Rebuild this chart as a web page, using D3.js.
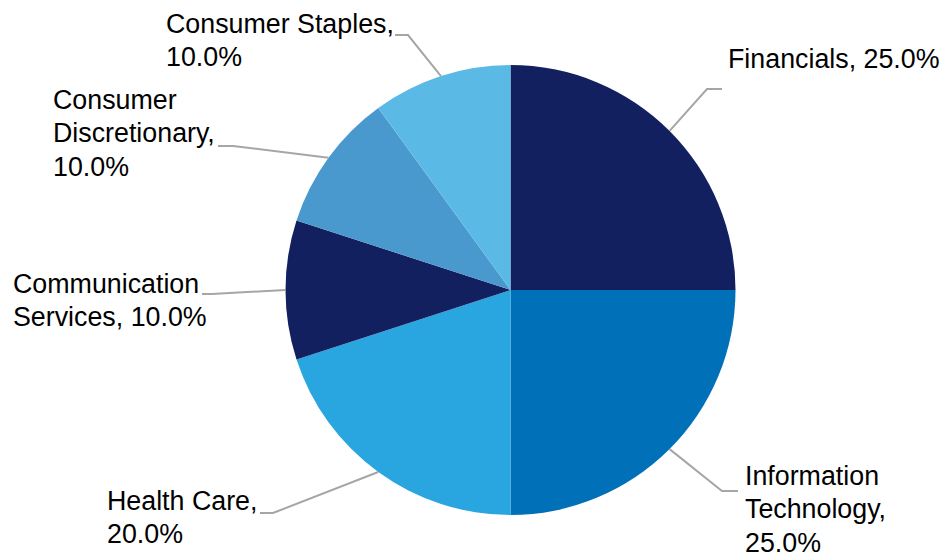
<!doctype html>
<html lang="en">
<head>
  <meta charset="utf-8">
  <title>Sector allocation</title>
  <style type="text/css">
    body{
      margin:0;
      background:#fff;
    }
    text{
      font-family: "Liberation Sans", Arial, Helvetica, sans-serif;
      font-size:26.8px;
      fill:#000;
    }
    .leader{
      fill:none;
      stroke:#a6a6a6;
      stroke-width:2;
    }
  </style>
</head>
<body>
  <div id="vis"></div>
  <script src="https://cdn.jsdelivr.net/npm/d3@7"></script>
  <script type="text/javascript">

    var width = 945,
      height = 555;

    // data
    var sectors = ['Financials', 'Information Technology', 'Health Care',
      'Communication Services', 'Consumer Discretionary', 'Consumer Staples'];
    var weights = [25.0, 25.0, 20.0, 10.0, 10.0, 10.0];
    var colors = ['#13205f', '#0070b8', '#29a6df', '#13205f', '#4a99ce', '#5bbae5'];

    // label text lines (as wrapped in the original)
    var labelLines = [
      ['Financials, 25.0%'],
      ['Information', 'Technology,', '25.0%'],
      ['Health Care,', '20.0%'],
      ['Communication', 'Services, 10.0%'],
      ['Consumer', 'Discretionary,', '10.0%'],
      ['Consumer Staples,', '10.0%']
    ];

    // label layout: elbow of leader, end of leader, text x, first baseline
    var labelLayout = [
      {elbow:[707, 89], end:[722, 89], tx:728, ty:68},
      {elbow:[722, 491], end:[738, 491], tx:745, ty:485},
      {elbow:[273, 513], end:[260, 513], tx:107, ty:510},
      {elbow:[212, 294], end:[202, 294], tx:13, ty:293},
      {elbow:[233, 146], end:[218, 146], tx:53, ty:109},
      {elbow:[408, 35], end:[395, 35], tx:166, ty:33}
    ];

    var cx = 510.5, cy = 290, radius = 225;

    var svg = d3.select("#vis").append("svg")
      .attr("width", width)
      .attr("height", height);

    var g = svg.append('g')
      .attr('transform', 'translate(' + cx + ',' + cy + ')');

    var pie = d3.pie().sort(null).value(function(d){ return d; });
    var arcs = pie(weights);

    var arc = d3.arc().innerRadius(0).outerRadius(radius);

    g.selectAll('.slice')
      .data(arcs)
      .enter().append('path')
      .attr('class', 'slice')
      .attr('d', arc)
      .style('fill', function(d, i){ return colors[i]; });

    // leader lines start on the rim at the middle angle of the slice
    var lines = svg.append('g');
    arcs.forEach(function(d, i){
      var a = (d.startAngle + d.endAngle) / 2;
      var start = [cx + Math.sin(a) * radius, cy - Math.cos(a) * radius];
      var lay = labelLayout[i];
      lines.append('path')
        .attr('class', 'leader')
        .attr('d', d3.line()([start, lay.elbow, lay.end]));
    });

    var labels = svg.append('g');
    labelLines.forEach(function(ls, i){
      var lay = labelLayout[i];
      var t = labels.append('text')
        .attr('x', lay.tx)
        .attr('y', lay.ty);
      ls.forEach(function(l, j){
        t.append('tspan')
          .attr('x', lay.tx)
          .attr('dy', j === 0 ? 0 : 33.3)
          .text(l);
      });
    });

  </script>
</body>
</html>
